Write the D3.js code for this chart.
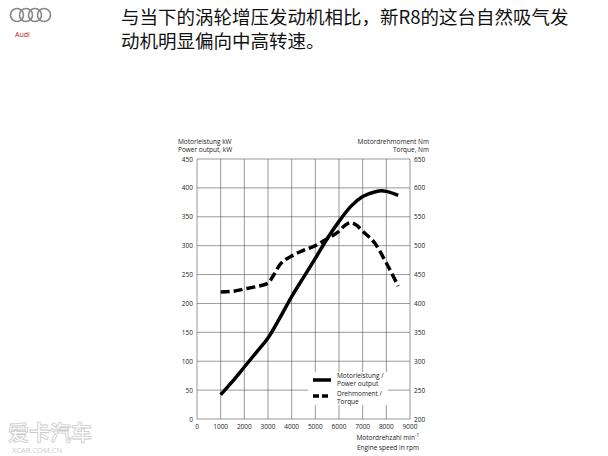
<!DOCTYPE html>
<html><head><meta charset="utf-8">
<script src="https://cdn.jsdelivr.net/npm/d3@7"></script>
<style>body{margin:0;background:#fff;}</style>
</head><body>
<script>
const rpmPower = [1000,1500,2000,2500,3000,3500,4000,4500,5000,5500,6000,6500,7000,7500,7800,8000,8500];
const power = [42,65,90,115,140,175,212,245,278,312,342,368,385,393,395,394,387];
const rpmTorque = [1000,1500,2000,2500,3000,3250,3500,4000,4500,5000,5500,6000,6250,6500,6750,7000,7500,8000,8500];
const torque = [420,421,425,429,435,450,467,482,492,500,512,525,535,540,535,525,505,470,430];
const xTicks = [0,1000,2000,3000,4000,5000,6000,7000,8000,9000];
const powerTicks = [0,50,100,150,200,250,300,350,400,450];
const torqueTicks = [200,250,300,350,400,450,500,550,600,650];

const W = 608, H = 456;
const svg = d3.select("body").append("svg").attr("width", W).attr("height", H);
const font = "'Open Sans', 'Noto Sans', sans-serif";

// logo
const logo = svg.append("g");
[0,1,2,3].forEach(i => logo.append("circle").attr("cx", 17 + i*9).attr("cy", 15).attr("r", 6.5)
  .attr("fill", "none").attr("stroke", "#888").attr("stroke-width", 1.6));
svg.append("text").attr("x", 15).attr("y", 37).text("Audi").attr("font-family", font)
  .attr("font-size", 7).attr("fill", "#c0141c");

// title
const title = svg.append("text").attr("font-family", "'Noto Sans CJK SC', sans-serif").attr("font-size", 18.5).attr("fill", "#111");
title.append("tspan").attr("x", 121).attr("y", 24).text("与当下的涡轮增压发动机相比，新R8的这台自然吸气发");
title.append("tspan").attr("x", 121).attr("y", 48).text("动机明显偏向中高转速。");

const L = 197, R = 410, T = 159, B = 419;
const x = d3.scaleLinear().domain([0, 9000]).range([L, R]);
const yP = d3.scaleLinear().domain([0, 450]).range([B, T]);
const yT = d3.scaleLinear().domain([200, 650]).range([B, T]);

const g = svg.append("g");
g.selectAll(".hg").data(powerTicks).join("line").attr("x1", L).attr("x2", R)
  .attr("y1", d => yP(d)).attr("y2", d => yP(d)).attr("stroke", "#555").attr("stroke-width", 0.6);
g.selectAll(".vg").data(xTicks).join("line").attr("y1", T).attr("y2", B)
  .attr("x1", d => x(d)).attr("x2", d => x(d)).attr("stroke", "#555").attr("stroke-width", 0.6);

const tf = s => s.attr("font-family", font).attr("font-size", 6.5).attr("fill", "#222");
g.selectAll(".xl").data(xTicks).join("text").attr("x", d => x(d)).attr("y", B + 10)
  .attr("text-anchor", "middle").text(d => d).call(tf);
g.selectAll(".pl").data(powerTicks).join("text").attr("x", L - 4).attr("y", d => yP(d) + 2.5)
  .attr("text-anchor", "end").text(d => d).call(tf);
g.selectAll(".tl").data(torqueTicks).join("text").attr("x", R + 4).attr("y", d => yT(d) + 2.5)
  .text(d => d).call(tf);

svg.append("text").attr("x", 178).attr("y", 144).text("Motorleistung kW").call(tf);
svg.append("text").attr("x", 178).attr("y", 152).text("Power output, kW").call(tf);
svg.append("text").attr("x", 429).attr("y", 144).attr("text-anchor", "end").text("Motordrehmoment Nm").call(tf);
svg.append("text").attr("x", 429).attr("y", 152).attr("text-anchor", "end").text("Torque, Nm").call(tf);
const xt = svg.append("text").attr("x", 419).attr("y", 440).attr("text-anchor", "end").call(tf);
xt.append("tspan").text("Motordrehzahl min");
xt.append("tspan").attr("dy", -3).attr("font-size", 4.5).text("-1");
svg.append("text").attr("x", 419).attr("y", 450).attr("text-anchor", "end").text("Engine speed in rpm").call(tf);

// legend background
svg.append("rect").attr("x", 308).attr("y", 372).attr("width", 80).attr("height", 33).attr("fill", "#fff");
svg.append("line").attr("x1", 313).attr("x2", 331).attr("y1", 380).attr("y2", 380).attr("stroke", "#000").attr("stroke-width", 3.5);
svg.append("line").attr("x1", 313).attr("x2", 331).attr("y1", 396).attr("y2", 396).attr("stroke", "#000").attr("stroke-width", 3.5).attr("stroke-dasharray", "6,3");
[["Motorleistung /",378],["Power output",386],["Drehmoment /",396],["Torque",404]].forEach(([t,yy]) =>
  svg.append("text").attr("x", 337).attr("y", yy).text(t).call(tf));

const line = d3.line().curve(d3.curveMonotoneX);
svg.append("path").attr("d", line(rpmPower.map((r,i) => [x(r), yP(power[i])])))
  .attr("fill", "none").attr("stroke", "#000").attr("stroke-width", 3.5);
svg.append("path").attr("d", line(rpmTorque.map((r,i) => [x(r), yT(torque[i])])))
  .attr("fill", "none").attr("stroke", "#000").attr("stroke-width", 3.5).attr("stroke-dasharray", "9,4");

// watermark
svg.append("text").attr("x", 8).attr("y", 440).text("爱卡汽车").attr("font-family", "'Noto Sans CJK SC', sans-serif")
  .attr("font-size", 21).attr("font-weight", "bold").attr("fill", "none").attr("stroke", "#ccc").attr("stroke-width", 0.8);
svg.append("text").attr("x", 12).attr("y", 453).text("XCAR.COM.CN").attr("font-family", font)
  .attr("font-size", 7.5).attr("fill", "#ccc");
</script>
</body></html>
